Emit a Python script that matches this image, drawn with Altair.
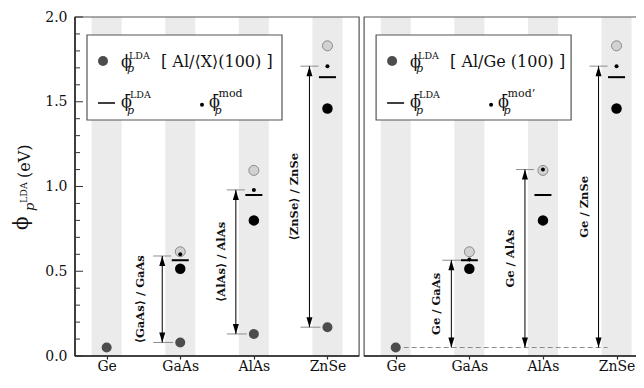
import altair as alt
import pandas as pd

# ---------------- data ----------------
cats = ["Ge", "GaAs", "AlAs", "ZnSe"]
cat_pos = [0, 1, 2, 3]

# dark-grey dots: phi_p^LDA
lda_left = [0.05, 0.08, 0.13, 0.17]      # Al/<X>(100)
lda_right_pos = [0]
lda_right = [0.05]                       # Al/Ge(100)

# values for GaAs, AlAs, ZnSe (both panels)
sub_pos = [1, 2, 3]
black_vals = [0.515, 0.80, 1.46]
light_vals = [0.615, 1.095, 1.83]
bar_vals = [0.565, 0.95, 1.645]
mod_left = [0.60, 0.98, 1.71]
mod_right = [0.57, 1.10, 1.71]

# double arrows
arrow_lo_left = [0.08, 0.13, 0.17]
arrow_hi_left = [0.59, 0.98, 1.71]
arrow_lo_right = [0.05, 0.05, 0.05]
arrow_hi_right = [0.565, 1.10, 1.71]
labels_left = ["\u27e8GaAs\u27e9 / GaAs", "\u27e8AlAs\u27e9 / AlAs", "\u27e8ZnSe\u27e9 / ZnSe"]
labels_right = ["Ge / GaAs", "Ge / AlAs", "Ge / ZnSe"]
label_shift_left = [-21, -14, -14]
label_shift_right = [-14, -14, -14]

y_major = [0.0, 0.5, 1.0, 1.5, 2.0]
y_minor = [0.1, 0.2, 0.3, 0.4, 0.6, 0.7, 0.8, 0.9, 1.1, 1.2, 1.3, 1.4, 1.6, 1.7, 1.8, 1.9]

# ---------------- layout ----------------
PW = 561            # plot area width (both panels share one x scale)
H = 339
UNIT = 73.6         # px per category step
PAD = 0.43          # panel margin (category units) before first category
PANEL = 3 + 2 * PAD # panel width in category units
GAP = 5 / UNIT
OFF = PANEL + GAP   # offset of right panel
XD = [-PAD, -PAD + PW / UNIT]
SERIF = "DejaVu Serif"
PHI = "\u03d5"
PHIBAR = "\u03d5\u0304"
DARK = "#222"
BORDER = "#555"
GREY = "#8c8c8c"

xscale = alt.Scale(domain=XD, nice=False, zero=False)
yscale = alt.Scale(domain=[0, 2], nice=False)
tick_positions = cat_pos + [p + OFF for p in cat_pos]
xaxis = alt.Axis(values=tick_positions, title=None, grid=False, domain=False,
                 labelExpr="[" + ",".join("'%s'" % c for c in cats) + "]"
                           "[round(datum.value < %f ? datum.value : datum.value - %f)]" % (PANEL - PAD, OFF),
                 tickSize=3, tickColor=DARK, tickWidth=1.2, labelBaseline="alphabetic",
                 labelPadding=11, labelFont=SERIF, labelFontSize=14, labelColor="#111")
yaxis = alt.Axis(values=y_major, format=".1f", title=None, grid=False, ticks=False, domain=False,
                 labelPadding=8, labelFont=SERIF, labelFontSize=14, labelColor="#111")
one = pd.DataFrame({"a": [0]})


def X(f):
    return alt.X(f, type="quantitative", scale=xscale, axis=xaxis)


def Y(f):
    return alt.Y(f, type="quantitative", scale=yscale, axis=yaxis)


def txt(s, x, y, size, style="normal", weight="normal", angle=0):
    return alt.Chart(one).mark_text(
        text=s, font=SERIF, fontSize=size, fontStyle=style, fontWeight=weight,
        angle=angle, align="left", baseline="alphabetic", color="#111"
    ).encode(x=alt.value(x), y=alt.value(y))


def legend(dx, main, modname):
    L = []
    L.append(alt.Chart(one).mark_rect(fill="white", stroke=BORDER, strokeWidth=1.2).encode(
        x=alt.value(dx + 12), x2=alt.value(dx + 207), y=alt.value(18), y2=alt.value(103)))
    L.append(alt.Chart(one).mark_point(filled=True, size=100, color="#4d4d4d", opacity=1).encode(
        x=alt.value(dx + 28), y=alt.value(44)))
    L.append(txt(PHI, dx + 46, 50, 16))
    L.append(txt("p", dx + 52, 54.5, 11, style="italic"))
    L.append(txt("LDA", dx + 54, 42, 9.5))
    L.append(txt(main, dx + 86, 50, 16))
    L.append(alt.Chart(one).mark_rule(color="black", strokeWidth=1.5).encode(
        x=alt.value(dx + 23), x2=alt.value(dx + 40), y=alt.value(86)))
    L.append(txt(PHIBAR, dx + 46, 90, 16))
    L.append(txt("p", dx + 52, 96.5, 11, style="italic"))
    L.append(txt("LDA", dx + 55, 81, 9.5))
    L.append(alt.Chart(one).mark_point(filled=True, size=16, color="black", opacity=1).encode(
        x=alt.value(dx + 127), y=alt.value(87.7)))
    L.append(txt(PHIBAR, dx + 134, 90, 16))
    L.append(txt("p", dx + 139.5, 96.5, 11, style="italic"))
    L.append(txt(modname, dx + 143.5, 79.5, 11))
    return L


layers = []

# grey vertical bands behind every category of both panels
bands = pd.DataFrame({"pos": tick_positions})
layers.append(alt.Chart(bands).transform_calculate(
    b0="datum.pos - %f" % (15 / UNIT), b1="datum.pos + %f" % (15 / UNIT)
).mark_rect(color="#ebebeb").encode(x=X("b0"), x2="b1", y=alt.value(0), y2=alt.value(H)))

# panel frames
frames = pd.DataFrame({"x0": [-PAD, OFF - PAD], "x1": [PANEL - PAD, OFF + PANEL - PAD]})
layers.append(alt.Chart(frames).mark_rect(fill="white", fillOpacity=0, stroke=BORDER, strokeWidth=1.2).encode(
    x=X("x0"), x2="x1", y=alt.value(0), y2=alt.value(H)))
# dark axis lines: bottom of both panels, left of left panel
layers.append(alt.Chart(frames).mark_rule(color=DARK, strokeWidth=1.5).encode(
    x=X("x0"), x2="x1", y=alt.value(H)))
layers.append(alt.Chart(frames.head(1)).mark_rule(color=DARK, strokeWidth=1.5).encode(
    x=X("x0"), y=alt.value(0), y2=alt.value(H)))

# inward y ticks (left panel: major + minor; right panel: majors at its right edge)
layers.append(alt.Chart(pd.DataFrame({"v": y_major})).mark_rule(color="#333", strokeWidth=1).encode(
    y=Y("v"), x=alt.value(0), x2=alt.value(8)))
layers.append(alt.Chart(pd.DataFrame({"v": y_minor})).mark_rule(color="#333", strokeWidth=1).encode(
    y=Y("v"), x=alt.value(0), x2=alt.value(5)))
rt = pd.DataFrame({"v": y_major})
rt["r1"] = OFF + PANEL - PAD
rt["r0"] = rt["r1"] - 7 / UNIT
layers.append(alt.Chart(rt).mark_rule(color="#333", strokeWidth=1).encode(
    y=Y("v"), x=X("r0"), x2="r1"))

# legends
layers += legend(0, "[ Al/\u27e8X\u27e9(100) ]", "mod")
layers += legend(OFF * UNIT, "[ Al/Ge (100) ]", "mod\u2019")

# arrows
def arrow_df(off, lo, hi, labels, shifts):
    d = pd.DataFrame({"pos": [p + off for p in sub_pos], "lo": lo, "hi": hi,
                      "lab": labels, "sh": shifts})
    d["ax"] = d["pos"] - 18 / UNIT
    d["t0"] = d["pos"] - 27 / UNIT
    d["t1"] = d["pos"] - 9 / UNIT
    d["b1"] = d["pos"] - 7 / UNIT
    d["lx"] = d["ax"] + d["sh"] / UNIT
    d["mid"] = (d["lo"] + d["hi"]) / 2
    return d


aL = arrow_df(0, arrow_lo_left, arrow_hi_left, labels_left, label_shift_left)
aR = arrow_df(OFF, arrow_lo_right, arrow_hi_right, labels_right, label_shift_right)
aA = pd.concat([aL, aR], ignore_index=True)

layers.append(alt.Chart(aA).mark_rule(color=GREY, strokeWidth=1).encode(x=X("t0"), x2="t1", y=Y("hi")))
layers.append(alt.Chart(aL).mark_rule(color=GREY, strokeWidth=1).encode(x=X("t0"), x2="b1", y=Y("lo")))
dl = pd.DataFrame({"x0": [lda_right_pos[0] + OFF], "x1": [cat_pos[-1] + OFF - 9 / UNIT], "v": lda_right})
layers.append(alt.Chart(dl).mark_rule(color=GREY, strokeWidth=1, strokeDash=[5, 3]).encode(
    x=X("x0"), x2="x1", y=Y("v")))
layers.append(alt.Chart(aA).mark_rule(color="black", strokeWidth=1).encode(x=X("ax"), y=Y("lo"), y2="hi"))
layers.append(alt.Chart(aA).mark_point(shape="M0,0L0.6,2L-0.6,2Z", filled=True, size=100,
                                       color="black", opacity=1).encode(x=X("ax"), y=Y("hi")))
layers.append(alt.Chart(aA).mark_point(shape="M0,0L0.6,-2L-0.6,-2Z", filled=True, size=100,
                                       color="black", opacity=1).encode(x=X("ax"), y=Y("lo")))
layers.append(alt.Chart(aA).mark_text(font=SERIF, fontSize=11.5, fontWeight="bold", angle=270,
                                      align="center", baseline="middle", color="#111").encode(
    x=X("lx"), y=Y("mid"), text="lab:N"))

# data points
ddf = pd.DataFrame({"pos": cat_pos + [p + OFF for p in lda_right_pos], "v": lda_left + lda_right})
layers.append(alt.Chart(ddf).mark_point(filled=True, size=100, color="#4d4d4d", opacity=1).encode(
    x=X("pos"), y=Y("v")))
sdf = pd.DataFrame({"pos": sub_pos + [p + OFF for p in sub_pos],
                    "black": black_vals + black_vals, "light": light_vals + light_vals,
                    "bar": bar_vals + bar_vals, "mod": mod_left + mod_right})
layers.append(alt.Chart(sdf).mark_point(filled=True, size=100, fill="#d2d2d2", stroke="#8a8a8a",
                                        strokeWidth=1, opacity=1).encode(x=X("pos"), y=Y("light")))
layers.append(alt.Chart(sdf).mark_point(filled=True, size=110, color="black", opacity=1).encode(
    x=X("pos"), y=Y("black")))
layers.append(alt.Chart(sdf).mark_tick(orient="horizontal", thickness=2, size=17, color="black",
                                       opacity=1).encode(x=X("pos"), y=Y("bar")))
layers.append(alt.Chart(sdf).mark_point(filled=True, size=16, color="black", opacity=1).encode(
    x=X("pos"), y=Y("mod")))

# y-axis title  phi_p^LDA (eV)
layers.append(txt(PHI, -47, 213, 20, angle=270))
layers.append(txt("p", -41, 194, 13, style="italic", angle=270))
layers.append(txt("LDA", -48, 186, 9.5, angle=270))
layers.append(txt("(eV)", -45, 161, 16, angle=270))

chart = alt.layer(*layers).properties(
    width=PW, height=H,
    autosize=alt.AutoSizeParams(type="none"),
    padding={"left": 67, "top": 9, "right": 0, "bottom": 18},
).configure_view(stroke=None)

chart.save("out.html", embed_options={"renderer": "svg", "actions": False})
